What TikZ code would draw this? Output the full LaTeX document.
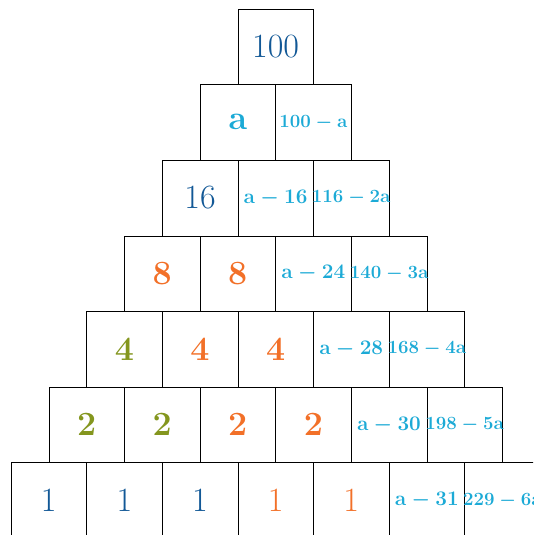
\documentclass[tikz,border=0pt]{standalone}
\usepackage{amsmath}
\usepackage{graphicx}
\definecolor{dblue}{RGB}{18,88,150}
\definecolor{cyanb}{RGB}{28,170,214}
\definecolor{orng}{RGB}{242,112,40}
\definecolor{olive}{RGB}{132,150,30}
\tikzset{
  cell/.style={draw=black, line width=0.6pt, minimum width=75.6pt, minimum height=75.6pt, inner sep=0pt, outer sep=0pt},
  big/.style={font=\fontsize{34}{34}\selectfont},
  mid/.style={font=\fontsize{22}{22}\selectfont\boldmath, text=cyanb},
  sml/.style={font=\fontsize{18.5}{18.5}\selectfont\boldmath, text=cyanb},
}
\newcommand{\zb}[1]{\makebox[0pt]{#1}}
\newcommand{\sm}[1]{\makebox[0pt]{\scalebox{1.08}{$\mathbf{#1}$}}}
\begin{document}
\begin{tikzpicture}[x=1pt,y=-1pt]
\useasboundingbox (0,0) rectangle (533,535);
\clip (0,0) rectangle (533,535);
% row 0
\node[cell,big,text=dblue] (r0a) at (275.6,46.8) {\zb{100}};
% row 1
\node[cell,big,text=cyanb] (r1a) at (237.8,122.4) {\zb{\textbf{a}}};
\node[cell,sml] (r1b) at (313.4,122.4) {\sm{100-a}};
% row 2
\node[cell,big,text=dblue] (r2a) at (200,198) {\zb{16}};
\node[cell,mid] (r2b) at (275.6,198) {\zb{$\mathbf{a-16}$}};
\node[cell,sml] (r2c) at (351.2,198) {\sm{116-2a}};
% row 3
\node[cell,big,text=orng] (r3a) at (162.2,273.6) {\zb{\textbf{8}}};
\node[cell,big,text=orng] (r3b) at (237.8,273.6) {\zb{\textbf{8}}};
\node[cell,mid] (r3c) at (313.4,273.6) {\zb{$\mathbf{a-24}$}};
\node[cell,sml] (r3d) at (389,273.6) {\sm{140-3a}};
% row 4
\node[cell,big,text=olive] (r4a) at (124.4,349.2) {\zb{\textbf{4}}};
\node[cell,big,text=orng] (r4b) at (200,349.2) {\zb{\textbf{4}}};
\node[cell,big,text=orng] (r4c) at (275.6,349.2) {\zb{\textbf{4}}};
\node[cell,mid] (r4d) at (351.2,349.2) {\zb{$\mathbf{a-28}$}};
\node[cell,sml] (r4e) at (426.8,349.2) {\sm{168-4a}};
% row 5
\node[cell,big,text=olive] (r5a) at (86.6,424.8) {\zb{\textbf{2}}};
\node[cell,big,text=olive] (r5b) at (162.2,424.8) {\zb{\textbf{2}}};
\node[cell,big,text=orng] (r5c) at (237.8,424.8) {\zb{\textbf{2}}};
\node[cell,big,text=orng] (r5d) at (313.4,424.8) {\zb{\textbf{2}}};
\node[cell,mid] (r5e) at (389,424.8) {\zb{$\mathbf{a-30}$}};
\node[cell,sml] (r5f) at (464.6,424.8) {\sm{198-5a}};
% row 6
\node[cell,big,text=dblue] (r6a) at (48.8,500.4) {\zb{1}};
\node[cell,big,text=dblue] (r6b) at (124.4,500.4) {\zb{1}};
\node[cell,big,text=dblue] (r6c) at (200,500.4) {\zb{1}};
\node[cell,big,text=orng] (r6d) at (275.6,500.4) {\zb{1}};
\node[cell,big,text=orng] (r6e) at (351.2,500.4) {\zb{1}};
\node[cell,mid] (r6f) at (426.8,500.4) {\zb{$\mathbf{a-31}$}};
\node[cell,sml] (r6g) at (502.4,500.4) {\sm{229-6a}};
\end{tikzpicture}
\end{document}
